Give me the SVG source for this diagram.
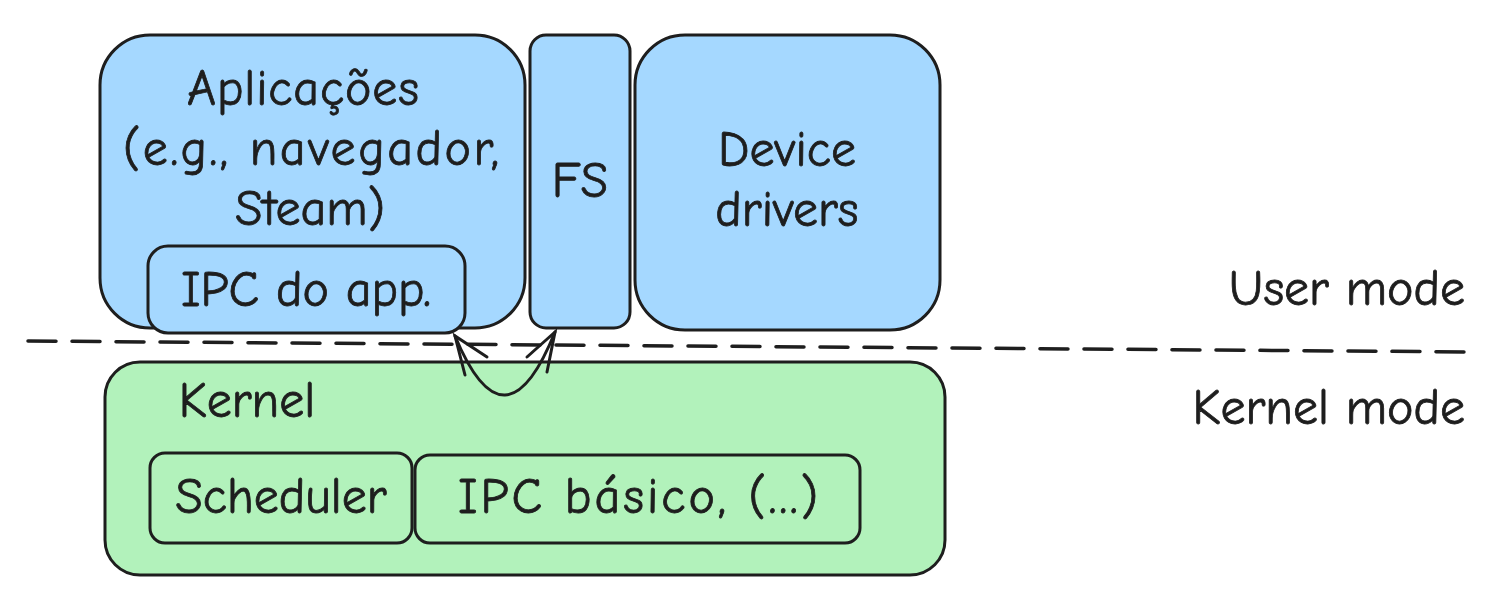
<svg xmlns="http://www.w3.org/2000/svg" width="1502" height="603" viewBox="0 0 1502 603">
<style>
.b{stroke:#1e1e1e;stroke-width:3;stroke-linejoin:round}
.blue{fill:#a5d8ff}
.green{fill:#b2f2bb}
.t{font-family:"Comic Neue","Liberation Sans",sans-serif;font-size:50px;fill:#1e1e1e;stroke:#1e1e1e;stroke-width:0.8;text-anchor:middle}
.c{fill:none;stroke:#1e1e1e;stroke-width:3;stroke-linecap:round}
</style>
<rect width="1502" height="603" fill="#ffffff"/>
<g id="apps">
<rect class="b blue" x="100" y="35" width="425" height="293" rx="50"/>
<text class="t" x="303" y="105" textLength="232" lengthAdjust="spacing">Aplicações</text>
<text class="t" x="311" y="165" textLength="376" lengthAdjust="spacing">(e.g., navegador,</text>
<text class="t" x="310" y="225">Steam)</text>
</g>
<g id="ipc-app">
<rect class="b blue" x="148" y="246" width="317" height="87" rx="20"/>
<text class="t" x="306" y="306">IPC do app.</text>
</g>
<g id="fs">
<rect class="b blue" x="530" y="35" width="100" height="293" rx="16"/>
<text class="t" x="580" y="197">FS</text>
</g>
<g id="drivers">
<rect class="b blue" x="635" y="35" width="305" height="295" rx="50"/>
<text class="t" x="787" y="166">Device</text>
<text class="t" x="787" y="226">drivers</text>
</g>
<g id="kernel">
<rect class="b green" x="105" y="362" width="840" height="213" rx="35"/>
<text class="t" x="247" y="417">Kernel</text>
</g>
<g id="scheduler">
<rect class="b green" x="150" y="453" width="262" height="90" rx="15"/>
<text class="t" x="281" y="513">Scheduler</text>
</g>
<g id="ipc-basico">
<rect class="b green" x="415" y="455" width="445" height="88" rx="15"/>
<text class="t" x="638" y="513" textLength="360" lengthAdjust="spacing">IPC básico, (...)</text>
</g>
<g id="labels">
<text class="t" x="1465" y="305" style="text-anchor:end">User mode</text>
<text class="t" x="1465" y="424" style="text-anchor:end">Kernel mode</text>
</g>
<g id="connectors">
<path class="c" d="M28 341 L1475 352" stroke-dasharray="28 16" style="stroke-width:3.5"/>
<path class="c" d="M455 336 Q505 456 555 332"/>
<path class="c" d="M465 375 L455 336 L487 357"/>
<path class="c" d="M527 357 L555 332 L547 372"/>
</g>
</svg>
